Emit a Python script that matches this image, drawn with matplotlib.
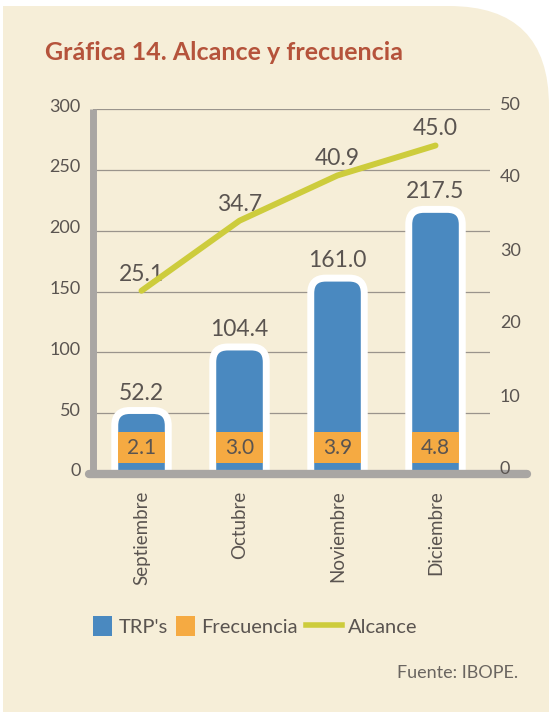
import matplotlib
matplotlib.use("Agg")
import matplotlib.pyplot as plt
import matplotlib.patches as mpatches
import matplotlib.transforms as mtrans
from matplotlib.path import Path
from matplotlib.lines import Line2D
from matplotlib.legend_handler import HandlerPatch

# data
meses = ["Septiembre", "Octubre", "Noviembre", "Diciembre"]
trps = [52.2, 104.4, 161.0, 217.5]
frecuencia = [2.1, 3.0, 3.9, 4.8]
alcance = [25.1, 34.7, 40.9, 45.0]
left_ticks = [0, 50, 100, 150, 200, 250, 300]
right_ticks = [0, 10, 20, 30, 40, 50]

BLUE = "#4a89c0"
ORANGE = "#f5aa42"
LIME = "#cdcc3c"
TXT = "#5a5450"
GRID = "#9a948c"
AXGRAY = "#a9a6a3"
CREAM = "#f6eed8"

plt.rcParams["font.family"] = ["Lato", "DejaVu Sans"]

W, H = 549, 712
fig = plt.figure(figsize=(W / 100, H / 100), dpi=100)
fig.patch.set_facecolor("white")

# cream page with rounded top-right corner
bg = mpatches.FancyBboxPatch((-300, -300), W + 300, H - 6 + 300,
                             boxstyle="round,pad=0,rounding_size=100",
                             transform=mtrans.IdentityTransform(),
                             facecolor=CREAM, edgecolor="none", zorder=-10)
fig.patches.append(bg)
fig.patches.append(mpatches.Rectangle((0, 0), 3, H, transform=mtrans.IdentityTransform(),
                                      facecolor="white", edgecolor="none", zorder=-9))

ax_l, ax_r, ax_b, ax_t = 93, 490, 474, 109
ax = fig.add_axes([ax_l / W, 1 - ax_b / H, (ax_r - ax_l) / W, (ax_b - ax_t) / H])
ax.set_facecolor("none")
for s in ax.spines.values():
    s.set_visible(False)
ax.set_xlim(-0.495, 3.556)
ax.set_ylim(0, 300)

# px per data unit, for rounded bar corners
sx = (ax_r - ax_l) / (3.556 + 0.495)
sy = (ax_b - ax_t) / 300.0

for v in left_ticks[1:]:
    ax.axhline(v, color=GRID, lw=0.9, zorder=1)

bar_w = 0.546
r = 15
rx, ry = r / sx, r / sy
for i, h in enumerate(trps):
    x0, x1 = i - bar_w / 2, i + bar_w / 2
    verts = [(x0, 0), (x0, h - ry), (x0, h), (x0 + rx, h), (x1 - rx, h),
             (x1, h), (x1, h - ry), (x1, 0), (x0, 0)]
    codes = [Path.MOVETO, Path.LINETO, Path.CURVE3, Path.CURVE3, Path.LINETO,
             Path.CURVE3, Path.CURVE3, Path.LINETO, Path.CLOSEPOLY]
    ax.add_patch(mpatches.PathPatch(Path(verts, codes), facecolor=BLUE,
                                    edgecolor="white", lw=5, zorder=2))
    ax.annotate(f"{h:.1f}", (i, h), xytext=(0, 5), textcoords="offset points",
                ha="center", va="bottom", fontsize=16.5, color=TXT, zorder=5)

box_w = 0.47
for i, f in enumerate(frecuencia):
    ax.add_patch(mpatches.Rectangle((i - box_w / 2, 9), box_w, 25.5,
                                    facecolor=ORANGE, edgecolor="none", zorder=3))
    ax.text(i, 21.5, f"{f:.1f}", ha="center", va="center", fontsize=15,
            color=TXT, zorder=4)

# axis lines
ax.plot([-0.01, 1.093], [0, 0], transform=ax.get_yaxis_transform(),
        color=AXGRAY, lw=6, solid_capstyle="round", clip_on=False, zorder=6)
ax.plot([0, 0], [0, 1], transform=ax.transAxes, color=AXGRAY, lw=5,
        solid_capstyle="butt", clip_on=False, zorder=6)

ax.set_yticks(left_ticks)
ax.tick_params(axis="y", length=0, pad=9, labelsize=13, labelcolor=TXT)
ax.set_xticks(range(len(meses)))
ax.set_xticklabels(meses, rotation=90)
ax.tick_params(axis="x", length=0, pad=12, labelsize=13.5, labelcolor=TXT)
up4 = mtrans.ScaledTranslation(0, 4 / 100, fig.dpi_scale_trans)
for lab in ax.get_yticklabels():
    lab.set_transform(lab.get_transform() + up4)

ax2 = ax.twinx()
ax2.set_position(ax.get_position())
for s in ax2.spines.values():
    s.set_visible(False)
ax2.set_ylim(0, 50)
ax2.set_yticks(right_ticks)
ax2.tick_params(axis="y", length=0, pad=7, labelsize=13, labelcolor=TXT)
up6 = mtrans.ScaledTranslation(0, 6 / 100, fig.dpi_scale_trans)
for lab in ax2.get_yticklabels():
    lab.set_transform(lab.get_transform() + up6)

xs = list(range(len(meses)))
ax2.plot(xs, alcance, color=LIME, lw=4.3, solid_capstyle="round", zorder=4)
for i, a in enumerate(alcance):
    ax2.annotate(f"{a:.1f}", (i, a), xytext=(0, 12), textcoords="offset points",
                 ha="center", va="center", fontsize=16.5, color=TXT)

fig.text(45 / W, 1 - 59.5 / H, "Gráfica 14. Alcance y frecuencia",
         ha="left", va="baseline", fontsize=18, fontweight="bold", color="#b5533b")


class SquareHandler(HandlerPatch):
    def legend_artist(self, legend, orig_handle, fontsize, handlebox):
        handlebox.width = handlebox.height
        return super().legend_artist(legend, orig_handle, fontsize, handlebox)


handles = [mpatches.Patch(facecolor=BLUE, label="TRP's"),
           mpatches.Patch(facecolor=ORANGE, label="Frecuencia"),
           Line2D([], [], color=LIME, lw=4, label="Alcance")]
sq = SquareHandler()
fig.legend(handles=handles, loc="center left", bbox_to_anchor=(93 / W, 1 - 626 / H),
           ncol=3, frameon=False, fontsize=14.5, labelcolor=TXT,
           handlelength=1.8, handleheight=1.1, handletextpad=0.3,
           columnspacing=0.4, borderpad=0, borderaxespad=0,
           handler_map={handles[0]: sq, handles[1]: sq})

fig.text(518 / W, 1 - 673 / H, "Fuente: IBOPE.", ha="right", va="center",
         fontsize=13, color="#6a6560")

fig.savefig("out.png", dpi=100, facecolor=fig.get_facecolor())
